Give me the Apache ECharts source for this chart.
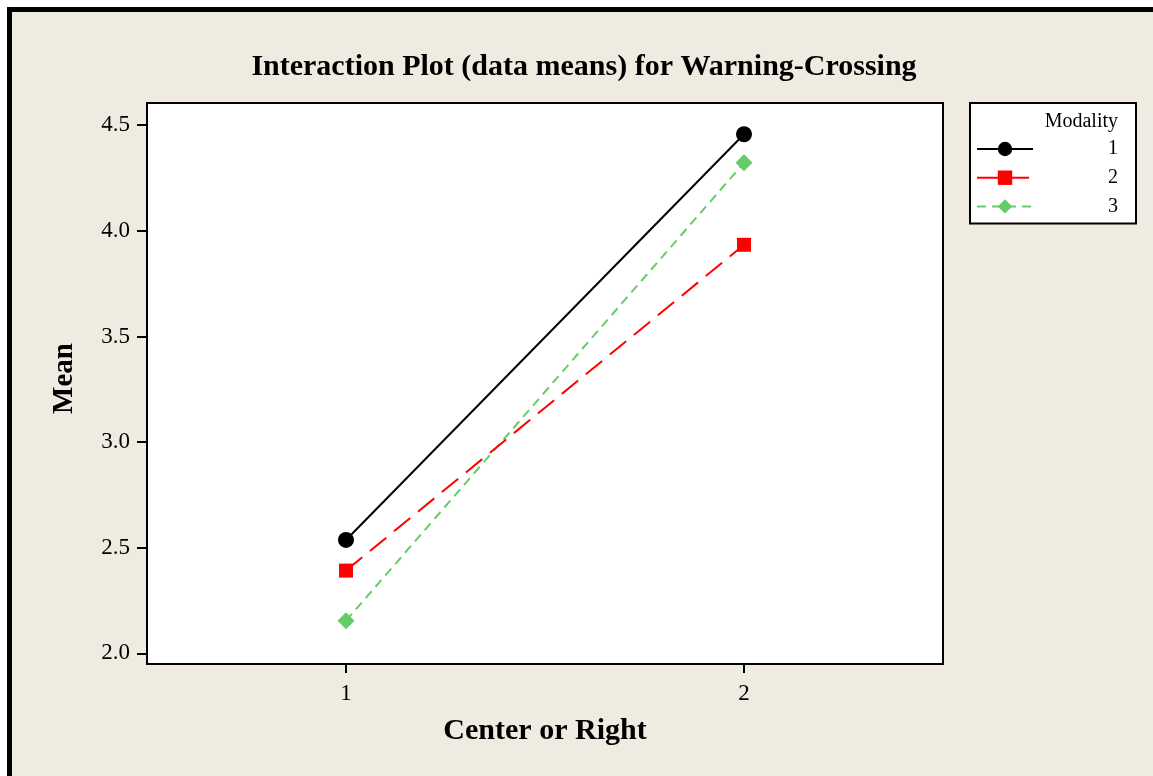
<!DOCTYPE html>
<html>
<head>
<meta charset="utf-8">
<script src="https://cdn.jsdelivr.net/npm/echarts@6.0.0/dist/echarts.min.js"></script>
<style>
html,body{margin:0;padding:0;background:#ffffff;}
#chart{width:1153px;height:776px;}
</style>
</head>
<body>
<div id="chart"></div>
<script>
// Data
const categories = ['1', '2'];                 // Center or Right
const seriesNames = ['1', '2', '3'];           // Modality
const modality1 = [2.537, 4.457];
const modality2 = [2.392, 3.934];
const modality3 = [2.155, 4.322];
const yTicks = [2.0, 2.5, 3.0, 3.5, 4.0, 4.5];

const FONT = '"Liberation Serif", "Times New Roman", serif';
const chart = echarts.init(document.getElementById('chart'), null, {renderer: 'canvas'});

const option = {
  backgroundColor: '#ffffff',
  animation: false,
  graphic: [
    {
      type: 'rect', z: -10, silent: true,
      shape: {x: 9.5, y: 9.5, width: 1300, height: 900},
      style: {fill: '#EFEBE1', stroke: '#000000', lineWidth: 5}
    },
    {
      type: 'text', z: 100, silent: true, x: 584, y: 67,
      style: {text: 'Interaction Plot (data means) for Warning-Crossing',
        font: 'bold 30px ' + FONT, fill: '#000', align: 'center', verticalAlign: 'middle'}
    },
    {
      type: 'text', z: 100, silent: true, x: 1118, y: 122,
      style: {text: 'Modality', font: '20px ' + FONT, fill: '#000', align: 'right', verticalAlign: 'middle'}
    }
  ],
  grid: {
    left: 147, right: 210, top: 103, bottom: 112,
    show: true, backgroundColor: '#ffffff', borderColor: '#000000', borderWidth: 2,
    containLabel: false
  },
  legend: {
    orient: 'vertical',
    left: 970, top: 103,
    padding: [36, 18, 7, 6],
    itemWidth: 56, itemHeight: 18, itemGap: 8.7,
    backgroundColor: '#ffffff', borderColor: '#000000', borderWidth: 2,
    data: seriesNames,
    formatter: function (name) { return '{a|' + name + '}'; },
    textStyle: {
      fontFamily: FONT, fontSize: 20, color: '#000',
      rich: {a: {width: 80, align: 'right', fontFamily: FONT, fontSize: 20, color: '#000'}}
    }
  },
  xAxis: {
    type: 'category',
    data: categories,
    boundaryGap: true,
    name: 'Center or Right',
    nameLocation: 'middle',
    nameGap: 52,
    nameTextStyle: {fontFamily: FONT, fontSize: 30, fontWeight: 'bold', color: '#000'},
    axisLine: {show: false},
    axisTick: {show: true, alignWithLabel: true, length: 9, lineStyle: {color: '#000', width: 2}},
    axisLabel: {fontFamily: FONT, fontSize: 23, color: '#000', margin: 18},
    splitLine: {show: false}
  },
  yAxis: {
    type: 'value',
    min: 1.95, max: 4.605,
    name: 'Mean',
    nameLocation: 'middle',
    nameRotate: 90,
    nameGap: 68,
    nameTextStyle: {fontFamily: FONT, fontSize: 29, fontWeight: 'bold', color: '#000', padding: [0, 0, 0, 10]},
    axisLine: {show: false},
    axisTick: {show: true, length: 10, customValues: yTicks, lineStyle: {color: '#000', width: 2}},
    axisLabel: {fontFamily: FONT, fontSize: 23, color: '#000', margin: 17, customValues: yTicks,
      formatter: function (v) { return Number(v).toFixed(1); }},
    splitLine: {show: false}
  },
  series: [
    {
      name: seriesNames[0], type: 'line', data: modality1,
      symbol: 'circle', symbolSize: 16,
      lineStyle: {color: '#000000', width: 2, type: 'solid'},
      itemStyle: {color: '#000000'}, z: 5
    },
    {
      name: seriesNames[1], type: 'line', data: modality2,
      symbol: 'rect', symbolSize: 14,
      lineStyle: {color: '#FF0000', width: 2, type: [21, 10]},
      itemStyle: {color: '#FF0000'}, z: 4
    },
    {
      name: seriesNames[2], type: 'line', data: modality3,
      symbol: 'diamond', symbolSize: 17,
      lineStyle: {color: '#66CC66', width: 2, type: [9, 6]},
      itemStyle: {color: '#66CC66'}, z: 3
    }
  ]
};
chart.setOption(option);
</script>
</body>
</html>
